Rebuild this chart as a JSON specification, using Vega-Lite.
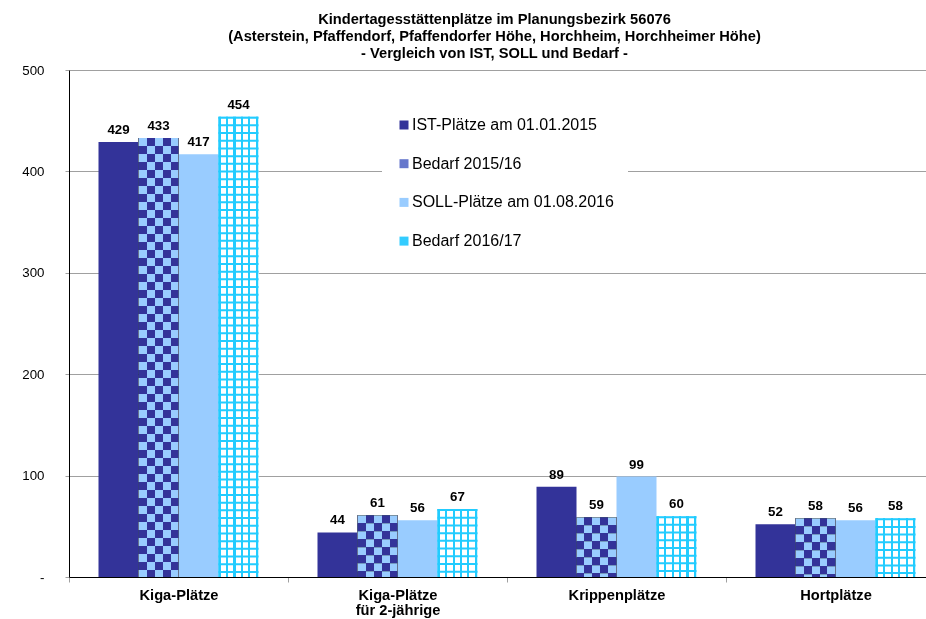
{
  "$schema": "https://vega.github.io/schema/vega-lite/v6.json",
  "width": 857,
  "height": 507,
  "autosize": {"type": "none"},
  "padding": {"left": 69, "top": 70, "right": 0, "bottom": 42},
  "background": "white",
  "config": {"view": {"stroke": null}, "font": "Liberation Sans"},
  "title": {
    "text": ["Kindertagesstättenplätze im Planungsbezirk 56076", "(Asterstein, Pfaffendorf, Pfaffendorfer Höhe, Horchheim, Horchheimer Höhe)", "- Vergleich von IST, SOLL und Bedarf -"],
    "anchor": "middle",
    "frame": "group",
    "font": "Liberation Sans",
    "fontSize": 14.67,
    "fontWeight": "bold",
    "lineHeight": 17,
    "offset": 2,
    "dx": -3,
    "color": "black"
  },
  "data": {
    "values": [
      {"cat": "Kiga-Plätze", "series": "IST-Plätze am 01.01.2015", "value": 429},
      {"cat": "Kiga-Plätze", "series": "Bedarf 2015/16", "value": 433},
      {"cat": "Kiga-Plätze", "series": "SOLL-Plätze am 01.08.2016", "value": 417},
      {"cat": "Kiga-Plätze", "series": "Bedarf 2016/17", "value": 454},
      {"cat": "Kiga-Plätze für 2-jährige", "series": "IST-Plätze am 01.01.2015", "value": 44},
      {"cat": "Kiga-Plätze für 2-jährige", "series": "Bedarf 2015/16", "value": 61},
      {"cat": "Kiga-Plätze für 2-jährige", "series": "SOLL-Plätze am 01.08.2016", "value": 56},
      {"cat": "Kiga-Plätze für 2-jährige", "series": "Bedarf 2016/17", "value": 67},
      {"cat": "Krippenplätze", "series": "IST-Plätze am 01.01.2015", "value": 89},
      {"cat": "Krippenplätze", "series": "Bedarf 2015/16", "value": 59},
      {"cat": "Krippenplätze", "series": "SOLL-Plätze am 01.08.2016", "value": 99},
      {"cat": "Krippenplätze", "series": "Bedarf 2016/17", "value": 60},
      {"cat": "Hortplätze", "series": "IST-Plätze am 01.01.2015", "value": 52},
      {"cat": "Hortplätze", "series": "Bedarf 2015/16", "value": 58},
      {"cat": "Hortplätze", "series": "SOLL-Plätze am 01.08.2016", "value": 56},
      {"cat": "Hortplätze", "series": "Bedarf 2016/17", "value": 58}
    ]
  },
  "encoding": {
    "x": {
      "field": "cat",
      "type": "nominal",
      "title": null,
      "scale": {
        "domain": ["Kiga-Plätze", "Kiga-Plätze für 2-jährige", "Krippenplätze", "Hortplätze"],
        "range": [0, 876],
        "paddingInner": 0,
        "paddingOuter": 0
      },
      "axis": {
        "labelExpr": "datum.value == 'Kiga-Plätze für 2-jährige' ? ['Kiga-Plätze', 'für 2-jährige'] : datum.label",
        "labelAngle": 0,
        "labelFont": "Liberation Sans",
        "labelFontSize": 14.67,
        "labelFontWeight": "bold",
        "labelColor": "black",
        "labelLineHeight": 15,
        "labelPadding": 5,
        "tickBand": "extent",
        "tickColor": "#a0a0a0",
        "tickSize": 5,
        "domainColor": "black",
        "grid": false
      }
    },
    "xOffset": {
      "field": "series",
      "type": "nominal",
      "scale": {
        "domain": ["IST-Plätze am 01.01.2015", "Bedarf 2015/16", "SOLL-Plätze am 01.08.2016", "Bedarf 2016/17"],
        "paddingInner": 0,
        "paddingOuter": 0.7375
      }
    },
    "y": {
      "field": "value",
      "type": "quantitative",
      "title": null,
      "scale": {"domain": [0, 500], "nice": false},
      "axis": {
        "values": [0, 100, 200, 300, 400, 500],
        "labelExpr": "datum.value == 0 ? '-' : datum.label",
        "grid": true,
        "gridColor": "#a0a0a0",
        "domainColor": "black",
        "tickColor": "#a0a0a0",
        "tickSize": 4,
        "labelPadding": 21,
        "labelFont": "Liberation Sans",
        "labelFontSize": 13.3,
        "labelColor": "black"
      }
    }
  },
  "layer": [
    {
      "mark": {"type": "bar"},
      "encoding": {
        "color": {
          "field": "series",
          "type": "nominal",
          "scale": {
            "domain": ["IST-Plätze am 01.01.2015", "Bedarf 2015/16", "SOLL-Plätze am 01.08.2016", "Bedarf 2016/17"],
            "range": ["#333399", "#6677cc", "#99ccff", "#33ccff"]
          },
          "legend": {
            "title": null,
            "orient": "none",
            "legendX": 313,
            "legendY": 33,
            "symbolType": "square",
            "symbolSize": 81,
            "symbolStrokeWidth": 0,
            "symbolOpacity": 1,
            "labelFont": "Liberation Sans",
            "labelFontSize": 16,
            "labelColor": "black",
            "labelOffset": 0,
            "labelLimit": 300,
            "rowPadding": 22.7,
            "fillColor": "white",
            "padding": 14
          }
        }
      }
    },
    {
      "transform": [{"filter": "datum.series === 'Bedarf 2015/16'"}],
      "mark": {
        "type": "bar",
        "fill": {
          "gradient": "linear", "x1": 0, "y1": 0, "x2": 1, "y2": 0,
          "stops": [
            {"offset": 0, "color": "#000000"}, {"offset": 0.2, "color": "#000000"},
            {"offset": 0.2, "color": "#ffffff"}, {"offset": 0.4, "color": "#ffffff"},
            {"offset": 0.4, "color": "#000000"}, {"offset": 0.6, "color": "#000000"},
            {"offset": 0.6, "color": "#ffffff"}, {"offset": 0.8, "color": "#ffffff"},
            {"offset": 0.8, "color": "#000000"}, {"offset": 1, "color": "#000000"}
          ]
        }
      }
    },
    {
      "transform": [{"filter": "datum.series === 'Bedarf 2015/16'"}],
      "mark": {"type": "rule", "stroke": "#ffffff", "strokeWidth": 40, "strokeDash": [8, 8], "strokeCap": "butt", "blend": "difference"},
      "encoding": {"y2": {"datum": 0}}
    },
    {
      "transform": [{"filter": "datum.series === 'Bedarf 2015/16'"}],
      "mark": {"type": "bar", "fill": "#99ccff", "blend": "multiply"}
    },
    {
      "transform": [{"filter": "datum.series === 'Bedarf 2015/16'"}],
      "mark": {"type": "bar", "fill": "#333399", "blend": "lighten"}
    },
    {
      "transform": [{"filter": "datum.series === 'Bedarf 2016/17'"}],
      "mark": {
        "type": "bar",
        "fill": {
          "gradient": "linear", "x1": 0, "y1": 0, "x2": 1, "y2": 0,
          "stops": [
            {"offset": 0, "color": "#22ccff"}, {"offset": 0.05, "color": "#22ccff"},
            {"offset": 0.05, "color": "#ffffff"}, {"offset": 0.1875, "color": "#ffffff"},
            {"offset": 0.1875, "color": "#22ccff"}, {"offset": 0.2375, "color": "#22ccff"},
            {"offset": 0.2375, "color": "#ffffff"}, {"offset": 0.375, "color": "#ffffff"},
            {"offset": 0.375, "color": "#22ccff"}, {"offset": 0.425, "color": "#22ccff"},
            {"offset": 0.425, "color": "#ffffff"}, {"offset": 0.5625, "color": "#ffffff"},
            {"offset": 0.5625, "color": "#22ccff"}, {"offset": 0.6125, "color": "#22ccff"},
            {"offset": 0.6125, "color": "#ffffff"}, {"offset": 0.75, "color": "#ffffff"},
            {"offset": 0.75, "color": "#22ccff"}, {"offset": 0.8, "color": "#22ccff"},
            {"offset": 0.8, "color": "#ffffff"}, {"offset": 0.9375, "color": "#ffffff"},
            {"offset": 0.9375, "color": "#22ccff"}, {"offset": 0.9875, "color": "#22ccff"},
            {"offset": 0.9875, "color": "#ffffff"}, {"offset": 1, "color": "#ffffff"}
          ]
        }
      }
    },
    {
      "transform": [{"filter": "datum.series === 'Bedarf 2016/17'"}],
      "mark": {"type": "rule", "stroke": "#22ccff", "strokeWidth": 40, "strokeDash": [2, 5.7], "strokeCap": "butt"},
      "encoding": {"y2": {"datum": 0}}
    },
    {
      "mark": {"type": "text", "font": "Liberation Sans", "fontSize": 13.3, "fontWeight": "bold", "baseline": "alphabetic", "dy": -8, "color": "black"},
      "encoding": {"text": {"field": "value", "type": "quantitative"}}
    }
  ]
}
